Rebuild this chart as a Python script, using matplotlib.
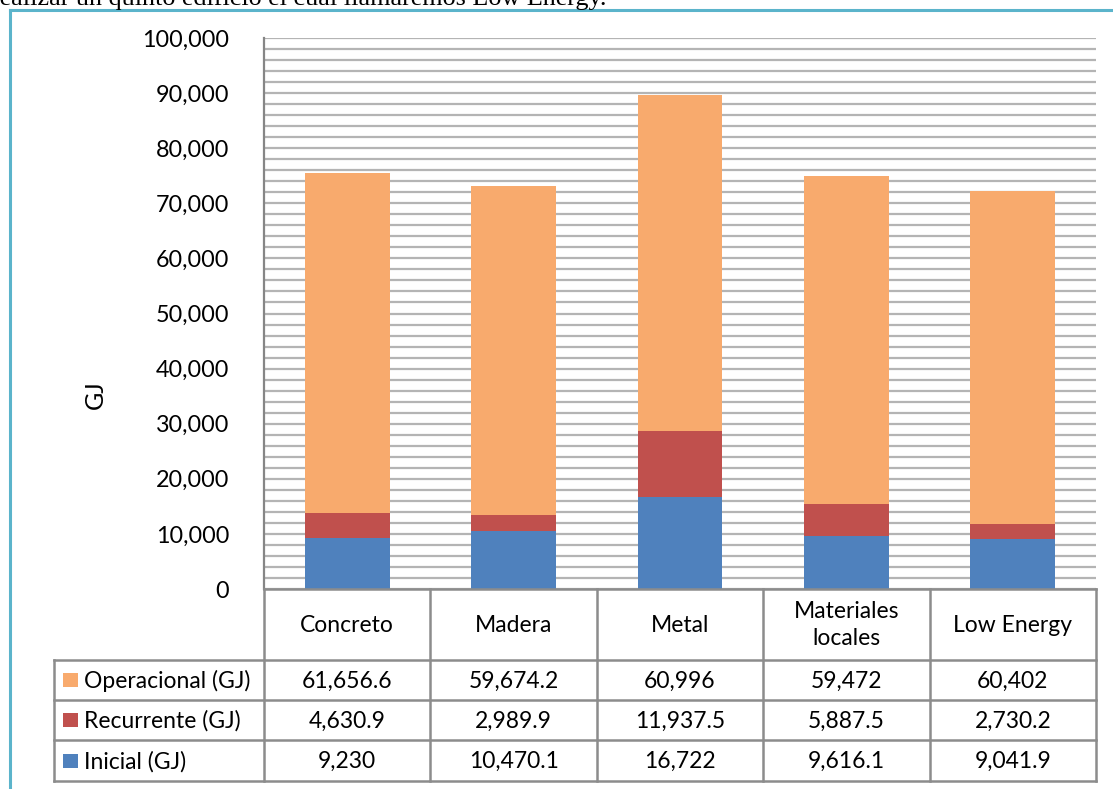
import matplotlib
matplotlib.use("Agg")
import matplotlib.pyplot as plt
from matplotlib.patches import Rectangle
from matplotlib.ticker import FuncFormatter, MultipleLocator

# data
categories = ["Concreto", "Madera", "Metal", "Materiales\nlocales", "Low Energy"]
inicial = [9230, 10470.1, 16722, 9616.1, 9041.9]
recurrente = [4630.9, 2989.9, 11937.5, 5887.5, 2730.2]
operacional = [61656.6, 59674.2, 60996, 59472, 60402]
series_names = ["Operacional (GJ)", "Recurrente (GJ)", "Inicial (GJ)"]
colors = {"Inicial (GJ)": "#4F81BD", "Recurrente (GJ)": "#C0504D", "Operacional (GJ)": "#F8AA6D"}

FONT = "Lato"
W, H = 1113, 789
GRID = "#B4B4B4"
LINE = "#8C8C8C"


def fmt(v):
    s = f"{v:,.1f}"
    return s[:-2] if s.endswith(".0") else s


fig = plt.figure(figsize=(W / 100, H / 100), dpi=100, facecolor="white")

# px -> figure coords helper
def box(x0, y0, x1, y1):
    return [x0 / W, 1 - y1 / H, (x1 - x0) / W, (y1 - y0) / H]

# ─── BARS ───
ax = fig.add_axes(box(264, 38, 1096, 589))
x = list(range(len(categories)))
bottom2 = [a + b for a, b in zip(inicial, recurrente)]
ax.bar(x, inicial, width=0.51, color=colors["Inicial (GJ)"], zorder=3)
ax.bar(x, recurrente, width=0.51, bottom=inicial, color=colors["Recurrente (GJ)"], zorder=3)
ax.bar(x, operacional, width=0.51, bottom=bottom2, color=colors["Operacional (GJ)"], zorder=3)
ax.set_xlim(-0.5, len(categories) - 0.5)
ax.set_ylim(0, 100000)
ax.yaxis.set_major_locator(MultipleLocator(10000))
ax.yaxis.set_minor_locator(MultipleLocator(2000))
ax.yaxis.set_major_formatter(FuncFormatter(lambda v, p: f"{int(v):,}"))
ax.grid(True, which="both", axis="y", color=GRID, linewidth=1.6, zorder=0)
ax.tick_params(axis="y", which="both", length=0, pad=25, labelsize=16.8)
for lab in ax.get_yticklabels():
    lab.set_fontfamily(FONT)
ax.set_xticks([])
for s in ["top", "right", "bottom"]:
    ax.spines[s].set_visible(False)
ax.spines["left"].set_color("#868686")
ax.spines["left"].set_linewidth(1.6)

fig.text(95 / W, 1 - 395 / H, "GJ", rotation=90, ha="center", va="center",
         fontsize=18, fontfamily=FONT)

# ─── DATA TABLE ───
unit = (1096 - 264) / len(categories)
left = -0.5 - (264 - 54) / unit
tx = fig.add_axes(box(54, 589, 1096, 781))
tx.set_xlim(left, len(categories) - 0.5)
tx.set_ylim(781, 589)
tx.axis("off")
row_edges = [589, 660, 700, 740, 781]
kw = dict(color=LINE, linewidth=1.8, solid_capstyle="projecting", clip_on=False)
tx.plot([-0.5, len(categories) - 0.5], [589, 589], **kw)
for yy in row_edges[1:]:
    tx.plot([left, len(categories) - 0.5], [yy, yy], **kw)
for i in range(len(categories) + 1):
    tx.plot([i - 0.5, i - 0.5], [589, 781], **kw)
tx.plot([left, left], [660, 781], **kw)

for i, c in enumerate(categories):
    tx.text(i, 625, c, ha="center", va="center", fontsize=16.5, fontfamily=FONT,
            linespacing=1.3)

table_rows = {"Operacional (GJ)": operacional, "Recurrente (GJ)": recurrente,
              "Inicial (GJ)": inicial}
for r, name in enumerate(series_names):
    yc = (row_edges[r + 1] + row_edges[r + 2]) / 2
    key_w = 15 / unit
    tx.add_patch(Rectangle((left + 9 / unit, yc - 7), key_w, 14,
                           facecolor=colors[name], edgecolor="none"))
    tx.text(left + 30 / unit, yc + 1, name, ha="left", va="center",
            fontsize=16.5, fontfamily=FONT)
    for i, v in enumerate(table_rows[name]):
        tx.text(i, yc + 1, fmt(v), ha="center", va="center", fontsize=16.5,
                fontfamily=FONT)

# ─── PAGE FRAME + CUT TEXT ───
fr = fig.add_axes([0, 0, 1, 1], zorder=-1)
fr.set_xlim(0, W)
fr.set_ylim(H, 0)
fr.axis("off")
fr.plot([9.5, W + 5], [10, 10], color="#5BB4CB", linewidth=2.2)
fr.plot([9.5, 9.5], [10, H + 5], color="#5BB4CB", linewidth=2.2)
fr.text(-9, 5, "realizar un quinto edificio el cual llamaremos Low Energy.",
        ha="left", va="baseline", fontsize=18.8, fontfamily="Liberation Serif")

fig.savefig("out.png", dpi=100, facecolor="white")
